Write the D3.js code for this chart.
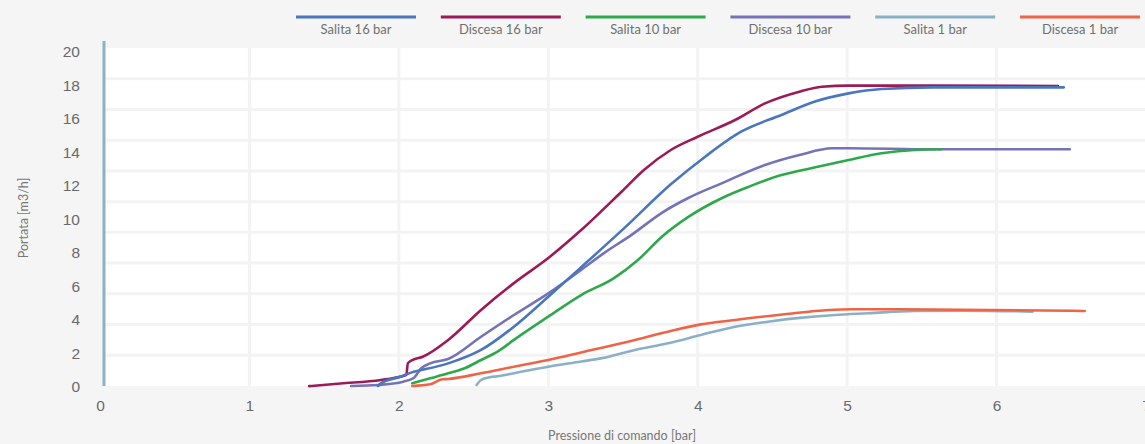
<!DOCTYPE html>
<html>
<head>
<meta charset="utf-8">
<script src="https://cdn.jsdelivr.net/npm/d3@7"></script>
<style>
  html, body { margin: 0; padding: 0; background: #f5f5f5; }
  svg { display: block; font-family: Lato, "Open Sans", sans-serif; }
</style>
</head>
<body>
<svg id="chart" width="1145" height="444"></svg>
<script>
// Flow rate vs. control pressure, rising (salita) and falling (discesa) branches
const xTicks = [0, 1, 2, 3, 4, 5, 6, 7];
const yTicks = [0, 2, 4, 6, 8, 10, 12, 14, 16, 18, 20];
const gridRows = [2, 4, 6, 8, 10, 12, 14, 16, 18, 20];

const seriesNames = ["Salita 16 bar", "Discesa 16 bar", "Salita 10 bar", "Discesa 10 bar", "Salita 1 bar", "Discesa 1 bar"];
const seriesColors = ["#4a76bd", "#9b1b58", "#2fa84c", "#7473b7", "#8bb0c6", "#ee6446"];

const salita16X = [1.86, 1.88, 2.01, 2.10, 2.15, 2.33, 2.55, 2.77, 3.00, 3.22, 3.51, 3.82, 4.05, 4.29, 4.56, 4.78, 5.01, 5.23, 5.57, 6.45];
const salita16Y = [0.06, 0.22, 0.61, 0.91, 1.01, 1.41, 2.21, 3.60, 5.39, 7.15, 9.50, 12.10, 13.75, 15.24, 16.24, 17.03, 17.53, 17.79, 17.89, 17.89];

const discesa16X = [1.40, 1.61, 1.88, 2.00, 2.05, 2.06, 2.09, 2.16, 2.33, 2.55, 2.77, 3.00, 3.22, 3.49, 3.64, 3.82, 4.00, 4.25, 4.45, 4.68, 4.83, 5.01, 5.57, 6.41];
const discesa16Y = [0.05, 0.21, 0.42, 0.60, 0.72, 1.41, 1.61, 1.81, 2.81, 4.60, 6.20, 7.70, 9.37, 11.66, 12.96, 14.15, 14.94, 15.94, 16.93, 17.63, 17.93, 17.99, 17.99, 17.97];

const salita10X = [2.09, 2.21, 2.33, 2.44, 2.55, 2.66, 2.77, 3.00, 3.22, 3.44, 3.60, 3.76, 3.94, 4.16, 4.34, 4.56, 4.78, 5.01, 5.23, 5.45, 5.63];
const salita10Y = [0.22, 0.52, 0.82, 1.12, 1.61, 2.11, 2.81, 4.20, 5.49, 6.50, 7.58, 8.97, 10.17, 11.27, 11.95, 12.65, 13.10, 13.55, 13.95, 14.15, 14.19];

const discesa10X = [1.68, 1.86, 2.03, 2.10, 2.15, 2.21, 2.33, 2.55, 2.77, 3.00, 3.22, 3.37, 3.56, 3.76, 3.94, 4.16, 4.45, 4.68, 4.90, 5.01, 5.57, 6.49];
const discesa10Y = [0.06, 0.12, 0.32, 0.54, 1.12, 1.41, 1.67, 3.00, 4.30, 5.59, 6.99, 7.98, 9.10, 10.40, 11.30, 12.16, 13.25, 13.85, 14.25, 14.25, 14.19, 14.19];

const salita1X = [2.52, 2.55, 2.60, 2.66, 2.77, 3.00, 3.22, 3.35, 3.58, 3.80, 4.02, 4.25, 4.47, 4.70, 4.92, 5.14, 5.45, 5.79, 6.24];
const salita1Y = [0.12, 0.42, 0.57, 0.64, 0.82, 1.21, 1.52, 1.71, 2.21, 2.61, 3.10, 3.60, 3.90, 4.14, 4.30, 4.40, 4.54, 4.56, 4.50];

const discesa1X = [2.09, 2.21, 2.29, 2.33, 2.55, 2.77, 3.00, 3.22, 3.58, 3.80, 4.02, 4.25, 4.58, 4.88, 5.03, 5.37, 6.59];
const discesa1Y = [0.06, 0.16, 0.46, 0.48, 0.82, 1.21, 1.61, 2.06, 2.81, 3.30, 3.74, 4.00, 4.34, 4.60, 4.64, 4.64, 4.54];

const series = [
  { name: seriesNames[0], color: seriesColors[0], xs: salita16X, ys: salita16Y },
  { name: seriesNames[1], color: seriesColors[1], xs: discesa16X, ys: discesa16Y },
  { name: seriesNames[2], color: seriesColors[2], xs: salita10X, ys: salita10Y },
  { name: seriesNames[3], color: seriesColors[3], xs: discesa10X, ys: discesa10Y },
  { name: seriesNames[4], color: seriesColors[4], xs: salita1X, ys: salita1Y },
  { name: seriesNames[5], color: seriesColors[5], xs: discesa1X, ys: discesa1Y }
];
// stacking order of the curves (later ones on top)
const drawOrder = [3, 2, 1, 0, 4, 5];

const svg = d3.select("#chart");
const W = 1145, H = 444;
const plotLeft = 104, plotTop = 48, plotBottom = 386;

const x = d3.scaleLinear().domain([0, 7]).range([100, 1146]);
const y = d3.scaleLinear().domain([0, 20]).range([387, 52]);
// background grid rows use their own spacing
const gridY = d3.scaleLinear().domain([0, 22]).range([plotBottom, plotTop]);

// plot background
svg.append("rect")
  .attr("x", plotLeft).attr("y", plotTop)
  .attr("width", W - plotLeft).attr("height", plotBottom - plotTop)
  .attr("fill", "#ffffff");

// grid
const grid = svg.append("g").attr("stroke", "#f3f3f3").attr("stroke-width", 3);
grid.selectAll("line.v").data(xTicks.filter(d => d > 0 && d < 7)).join("line")
  .attr("class", "v")
  .attr("x1", d => x(d)).attr("x2", d => x(d))
  .attr("y1", plotTop).attr("y2", plotBottom);
grid.selectAll("line.h").data(gridRows).join("line")
  .attr("class", "h")
  .attr("x1", plotLeft).attr("x2", W)
  .attr("y1", d => gridY(d)).attr("y2", d => gridY(d));

// y axis
const yAxis = svg.append("g")
  .attr("transform", `translate(${plotLeft},0)`)
  .call(d3.axisLeft(y).tickValues(yTicks).tickFormat(d3.format("d")).tickSize(0).tickPadding(24));
yAxis.select(".domain").remove();
yAxis.selectAll("text")
  .attr("fill", "#6a6a6a").style("font-size", "15.5px").style("font-weight", 300);

svg.append("line")
  .attr("x1", plotLeft).attr("x2", plotLeft)
  .attr("y1", 41).attr("y2", plotBottom)
  .attr("stroke", "#8cb1c9").attr("stroke-width", 3);

// x axis
const xAxis = svg.append("g")
  .attr("transform", `translate(0,${plotBottom})`)
  .call(d3.axisBottom(x).tickValues(xTicks).tickFormat(d3.format("d")).tickSize(0).tickPadding(14));
xAxis.select(".domain").remove();
xAxis.selectAll("text")
  .attr("fill", "#6a6a6a").style("font-size", "15.5px").style("font-weight", 300);

// axis titles
svg.append("text")
  .attr("x", 622).attr("y", 440)
  .attr("text-anchor", "middle")
  .attr("fill", "#777").style("font-size", "12.5px")
  .text("Pressione di comando [bar]");
svg.append("text")
  .attr("transform", "translate(28,218) rotate(-90)")
  .attr("text-anchor", "middle")
  .attr("fill", "#777").style("font-size", "12.5px")
  .text("Portata [m3/h]");

// curves
const line = d3.line()
  .x(d => x(d[0])).y(d => y(d[1]))
  .curve(d3.curveMonotoneX);

svg.append("g")
  .attr("fill", "none")
  .attr("stroke-width", 2.6)
  .attr("stroke-linecap", "round")
  .attr("stroke-linejoin", "round")
  .selectAll("path")
  .data(drawOrder.map(i => series[i]))
  .join("path")
  .attr("stroke", d => d.color)
  .attr("d", d => line(d.xs.map((v, i) => [v, d.ys[i]])));

// legend
const legendX = d3.scalePoint().domain(seriesNames).range([356, 1080]);
const legend = svg.append("g")
  .selectAll("g")
  .data(series)
  .join("g")
  .attr("transform", d => `translate(${legendX(d.name)},0)`);
legend.append("line")
  .attr("x1", -60).attr("x2", 60)
  .attr("y1", 17).attr("y2", 17)
  .attr("stroke", d => d.color).attr("stroke-width", 3);
legend.append("text")
  .attr("y", 34)
  .attr("text-anchor", "middle")
  .attr("fill", "#707070").style("font-size", "13px")
  .text(d => d.name);
</script>
</body>
</html>
